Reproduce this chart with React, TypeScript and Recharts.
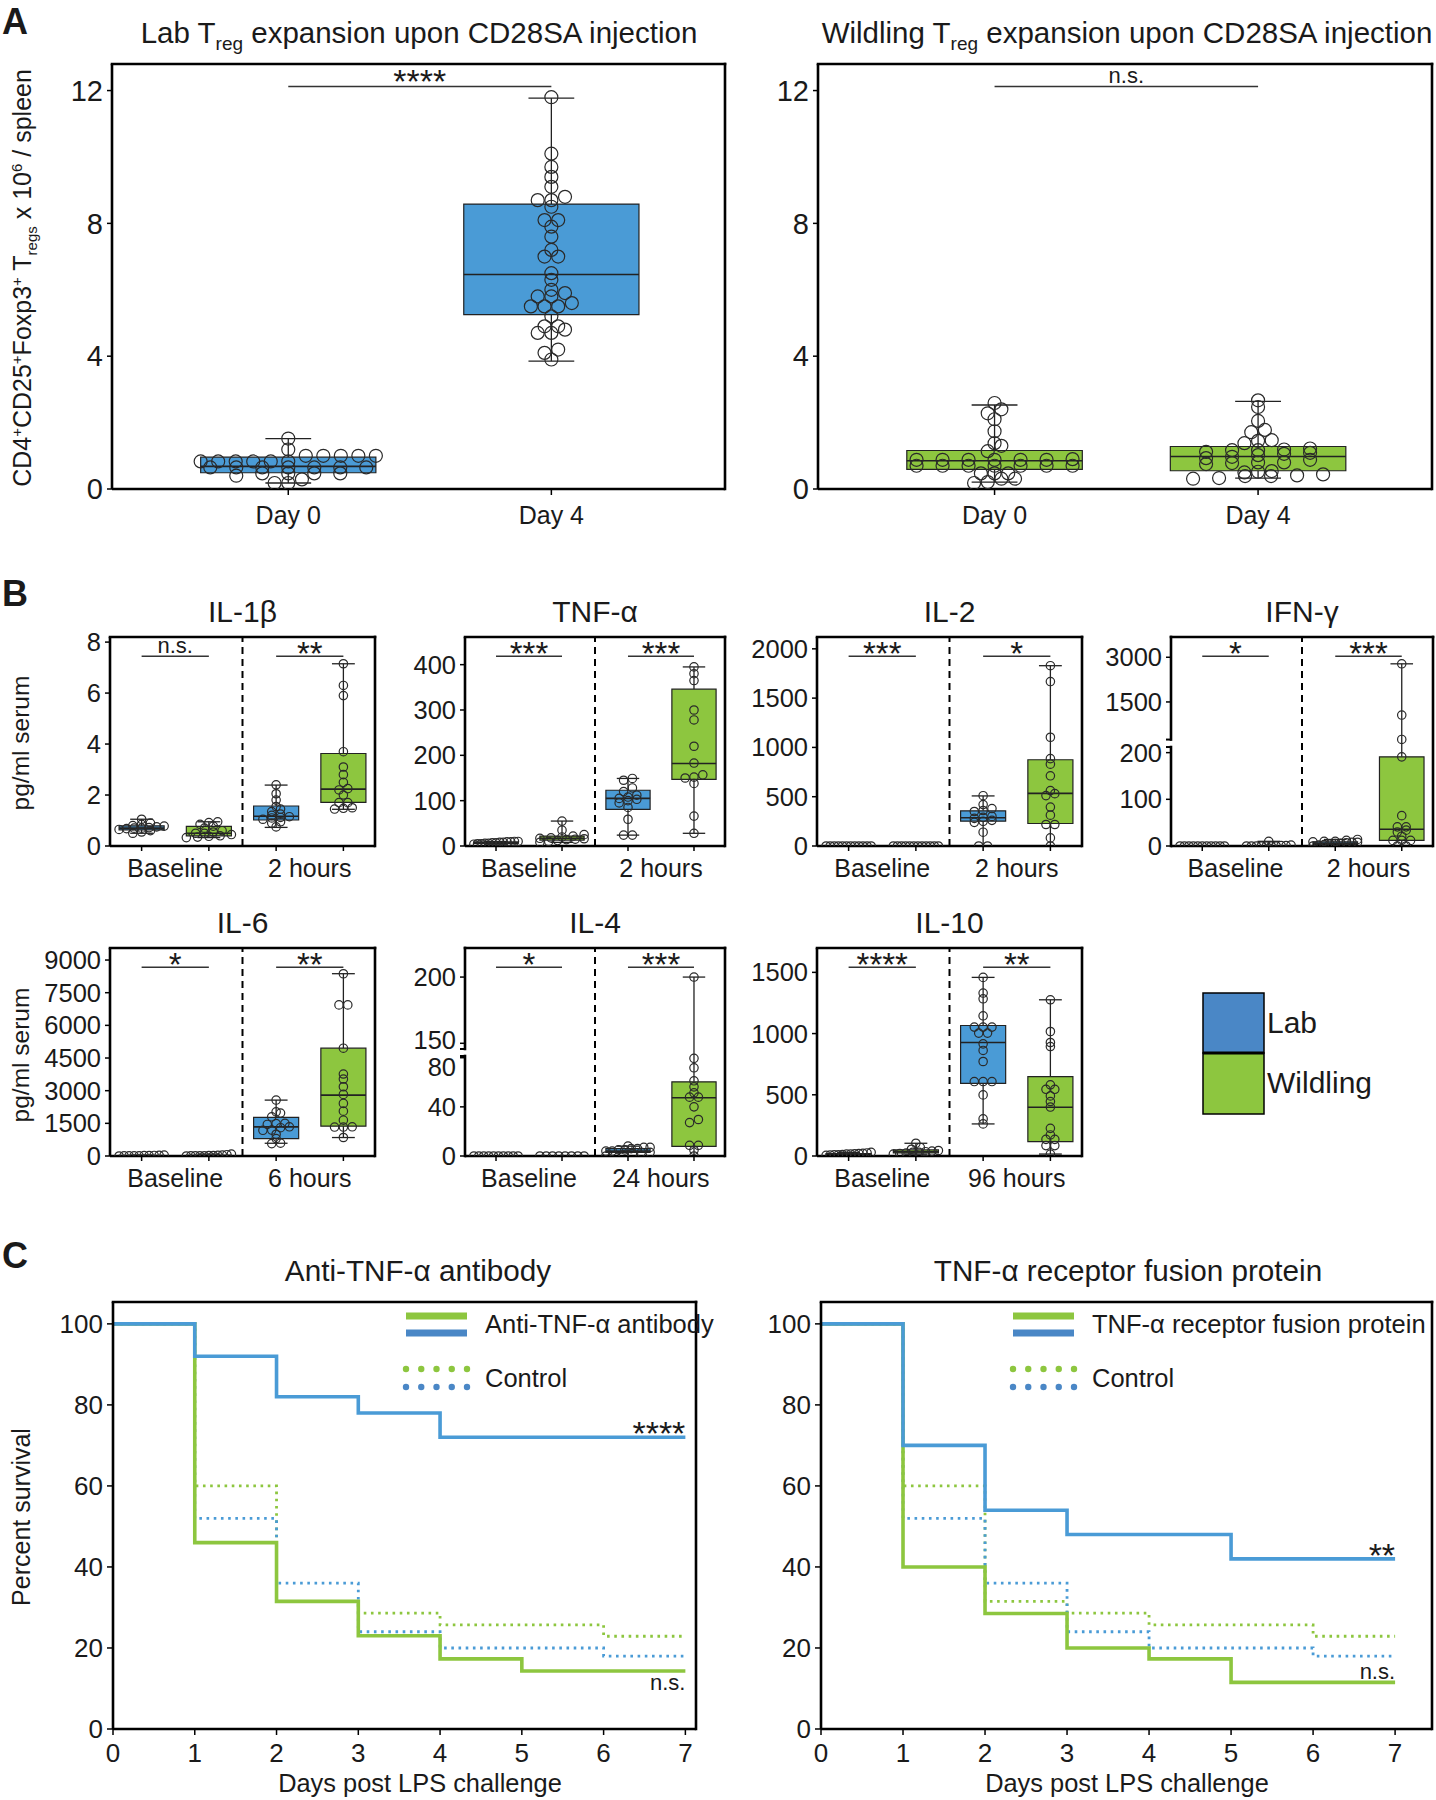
import React from 'react'
import { ComposedChart, XAxis, YAxis, Scatter, Line, ReferenceArea, ReferenceLine, ReferenceDot } from 'recharts'

document.body.style.margin = '0'

const BLUE = '#4a9bd6'
const GREEN = '#8dc63f'
const LEG_BLUE = '#4a87c6'
const INK = '#1a1a1a'
const FONT = '"Liberation Sans", Arial, Helvetica, sans-serif'

// ---------- A: Treg counts, x10^6 / spleen ----------
const aDays = ['Day 0', 'Day 4']
const aLabDay0 = [1.52, 1.19, 1.0, 1.0, 1.0, 1.0, 1.0, 0.83, 0.83, 0.83, 0.83, 0.83, 0.83, 0.65, 0.65, 0.65, 0.65, 0.65, 0.65, 0.65, 0.47, 0.47, 0.47, 0.47, 0.4, 0.29, 0.18, 0.18]
const aLabDay4 = [11.8, 10.1, 9.7, 9.4, 9.1, 8.8, 8.7, 8.7, 8.5, 8.1, 8.1, 7.9, 7.6, 7.2, 7.0, 7.0, 6.5, 6.3, 6.0, 5.9, 5.8, 5.8, 5.6, 5.5, 5.5, 5.5, 5.2, 4.9, 4.9, 4.8, 4.7, 4.7, 4.2, 4.1, 3.9]
const aWildDay0 = [2.59, 2.4, 2.28, 2.1, 1.74, 1.38, 1.3, 1.14, 0.9, 0.88, 0.88, 0.88, 0.88, 0.88, 0.88, 0.7, 0.7, 0.7, 0.7, 0.7, 0.7, 0.7, 0.47, 0.47, 0.47, 0.31, 0.31, 0.21, 0.18]
const aWildDay4 = [2.67, 2.47, 2.05, 1.78, 1.71, 1.47, 1.45, 1.38, 1.22, 1.19, 1.17, 1.17, 1.12, 1.09, 1.06, 1.02, 0.97, 0.93, 0.88, 0.8, 0.8, 0.78, 0.75, 0.54, 0.52, 0.5, 0.44, 0.41, 0.39, 0.39, 0.33, 0.31]
// box stats: [min, q1, median, q3, max]
const aLabStats = [[0.18, 0.49, 0.68, 0.96, 1.52], [3.85, 5.25, 6.46, 8.58, 11.77]]
const aWildStats = [[0.21, 0.59, 0.85, 1.16, 2.53], [0.33, 0.55, 0.98, 1.28, 2.64]]
const aTicks = [0, 4, 8, 12]
const aSig = ['****', 'n.s.']

// ---------- B: serum cytokines, pg/ml ----------
// groups: Lab baseline, Wildling baseline, Lab later, Wildling later
const cytokines = ['IL-1β', 'TNF-α', 'IL-2', 'IFN-γ', 'IL-6', 'IL-4', 'IL-10']
const timepoints = ['2 hours', '2 hours', '2 hours', '2 hours', '6 hours', '24 hours', '96 hours']
const sigBaseline = ['n.s.', '***', '***', '*', '*', '*', '****']
const sigLater = ['**', '***', '*', '***', '**', '***', '**']

const il1bPts = [
  [1.05, 0.9, 0.85, 0.8, 0.78, 0.75, 0.72, 0.7, 0.7, 0.68, 0.65, 0.6, 0.55, 0.5],
  [0.95, 0.92, 0.85, 0.78, 0.7, 0.6, 0.55, 0.5, 0.5, 0.45, 0.4, 0.38, 0.35, 0.33],
  [2.4, 2.05, 1.8, 1.55, 1.45, 1.35, 1.25, 1.2, 1.15, 1.12, 1.1, 1.05, 0.95, 0.9, 0.75],
  [7.15, 6.3, 5.9, 3.7, 3.1, 2.8, 2.5, 2.25, 2.2, 2.0, 1.7, 1.7, 1.5, 1.48, 1.45],
]
const il1bStats = [[0.5, 0.63, 0.7, 0.79, 1.05], [0.33, 0.4, 0.5, 0.77, 0.95], [0.73, 1.02, 1.17, 1.57, 2.39], [1.44, 1.71, 2.23, 3.63, 7.15]]

const tnfPts = [
  [10, 10, 9, 9, 8, 8, 7, 7, 6, 6, 5, 5, 4],
  [55, 35, 25, 22, 20, 18, 17, 16, 15, 14, 12, 10, 8],
  [149, 145, 128, 120, 112, 108, 105, 103, 100, 95, 85, 59, 24, 24],
  [395, 380, 365, 300, 278, 220, 183, 157, 152, 150, 138, 66, 28],
]
const tnfStats = [[4, 6, 7, 9, 10], [8, 13, 17, 22, 55], [24, 81, 105, 123, 149], [28, 147, 182, 346, 395]]

const il2Pts = [
  [0, 0, 0, 0, 0, 0, 0, 0, 0, 0, 0, 0],
  [0, 0, 0, 0, 0, 0, 0, 0, 0, 0, 0, 0],
  [510, 420, 380, 360, 350, 300, 290, 280, 260, 250, 240, 140, 0, 0],
  [1829, 1668, 1103, 886, 830, 712, 562, 531, 511, 395, 313, 218, 218, 82, 0],
]
const il2Stats = [[0, 0, 0, 0, 0], [0, 0, 0, 0, 0], [0, 252, 286, 357, 508], [0, 228, 534, 875, 1829]]

const ifngPts = [
  [0, 0, 0, 0, 0, 0, 0, 0, 0, 0, 0],
  [10, 2, 1, 1, 0, 0, 0, 0, 0, 0, 0],
  [14, 12, 10, 10, 9, 8, 8, 7, 6, 5, 4, 3, 2, 0],
  [2780, 1060, 240, 191, 65, 41, 41, 34, 30, 21, 12, 12, 12, 0, 0],
]
const ifngStats = [[0, 0, 0, 0, 0], [0, 0, 0, 1, 10], [0, 3, 6, 9, 14], [0, 12, 36, 191, 2780]]

const il6Pts = [
  [40, 30, 25, 20, 15, 10, 10, 5, 5, 0],
  [90, 60, 40, 30, 20, 15, 10, 10, 5, 5, 0],
  [2570, 2030, 1970, 1800, 1500, 1490, 1450, 1340, 1300, 1190, 1180, 1000, 800, 590, 570],
  [8370, 6940, 6940, 4950, 3765, 3535, 3180, 2830, 2415, 2060, 1645, 1340, 1330, 1330, 850],
]
const il6Stats = [[0, 5, 12, 25, 40], [0, 5, 15, 35, 90], [585, 802, 1336, 1770, 2567], [848, 1369, 2797, 4950, 8373]]

const il4Pts = [
  [0, 0, 0, 0, 0, 0, 0, 0, 0, 0],
  [0, 0, 0, 0, 0, 0, 0, 0],
  [8, 7, 7, 6, 6, 5, 5, 4, 4, 3, 3, 2, 1, 0, 0],
  [200, 79.5, 71.8, 61.2, 56.3, 51.4, 47.9, 47.9, 40, 29.7, 27.2, 8.7, 8.7, 4.7, 0],
]
const il4Stats = [[0, 0, 0, 0, 0], [0, 0, 0, 0, 0], [0, 3, 4, 6, 8], [0, 7.9, 47.4, 60.4, 200]]

const il10Pts = [
  [30, 25, 22, 20, 18, 15, 15, 12, 10, 10, 8, 5],
  [104, 70, 55, 45, 40, 35, 30, 30, 25, 20, 15],
  [1459, 1331, 1284, 1145, 1053, 1053, 1053, 1004, 1004, 916, 862, 772, 608, 608, 608, 499, 303, 262],
  [1276, 1017, 927, 894, 581, 545, 545, 491, 445, 400, 226, 172, 136, 136, 85, 85, 16],
]
const il10Stats = [[5, 10, 15, 20, 30], [15, 25, 35, 50, 104], [262, 594, 927, 1066, 1459], [16, 117, 398, 649, 1276]]

const bPts = [il1bPts, tnfPts, il2Pts, ifngPts, il6Pts, il4Pts, il10Pts]
const bStats = [il1bStats, tnfStats, il2Stats, ifngStats, il6Stats, il4Stats, il10Stats]
const bTicks = [
  [0, 2, 4, 6, 8],
  [0, 100, 200, 300, 400],
  [0, 500, 1000, 1500, 2000],
  [0, 100, 200, 1500, 3000],
  [0, 1500, 3000, 4500, 6000, 7500, 9000],
  [0, 40, 80, 150, 200],
  [0, 500, 1000, 1500],
]

// ---------- C: survival after LPS, % ----------
const days = [0, 1, 2, 3, 4, 5, 6, 7]
const antiLab = [100, 92, 82, 78, 72, 72, 72, 72]
const antiWild = [100, 46, 31.5, 23, 17.3, 14.3, 14.3, 14.3]
const fusionLab = [100, 70, 54, 48, 48, 42, 42, 42]
const fusionWild = [100, 40, 28.5, 20, 17.3, 11.5, 11.5, 11.5]
const ctrlLab = [100, 52, 36, 24, 20, 20, 18, 18]
const ctrlWild = [100, 60, 31.5, 28.6, 25.7, 25.7, 22.9, 22.9]
const survTicks = [0, 20, 40, 60, 80, 100]

// ---------- helpers ----------
type Brk = { lo: number; hi: number; gap: number; k: number }
const makeDisp = (brk?: Brk) => (v: number) => (!brk || v <= brk.lo ? v : brk.lo + brk.gap + (v - brk.hi) * brk.k)

// dot-plot style layout: bin by value, spread each bin sideways
function swarm(vals: number[], pxY: number, pxX: number, diam: number, halfPx: number) {
  const idx = vals.map((_, i) => i).sort((a, b) => vals[a] - vals[b])
  const off = vals.map(() => 0)
  const binPx = diam * 0.45
  let i = 0
  while (i < idx.length) {
    let j = i
    while (j + 1 < idx.length && (vals[idx[j + 1]] - vals[idx[i]]) * pxY <= binPx) j++
    const k = j - i + 1
    const sp = k >= 5 ? Math.min((2 * halfPx) / (k - 1), diam * 2) : diam * 1.05
    for (let m = 0; m < k; m++) off[idx[i + m]] = ((m - (k - 1) / 2) * sp) / pxX
    i = j + 1
  }
  return off
}

const dotShape = (r: number) => (p: any) => (
  <circle cx={p.cx} cy={p.cy} r={r} fill="none" stroke="#2a2a2a" strokeWidth={1.2} />
)

const textLabel = (text: string, size: number, dy: number, anchor: string = 'middle') => (p: any) => {
  const vb = p.viewBox || p
  return (
    <text x={vb.x} y={vb.y + dy} textAnchor={anchor} fontSize={size} fill={INK} fontFamily={FONT}>
      {text}
    </text>
  )
}

const xTick = (marks: number[], labels: { pos: number; text: string }[], len: number, font: number, dy: number) => (p: any) => {
  const v = p.payload.value
  const lab = labels.find((l) => Math.abs(l.pos - v) < 1e-6)
  return (
    <g>
      {marks.some((m) => Math.abs(m - v) < 1e-6) && <line x1={p.x} x2={p.x} y1={p.y} y2={p.y + len} stroke="#000" strokeWidth={1.5} />}
      {lab && (
        <text x={p.x} y={p.y + dy} textAnchor="middle" fontSize={font} fill={INK} fontFamily={FONT}>
          {lab.text}
        </text>
      )}
    </g>
  )
}

const yTick = (pos: number[], names: number[], font: number, nudge: Record<string, number>) => (p: any) => {
  const i = pos.findIndex((t) => Math.abs(t - p.payload.value) < 1e-6)
  if (i < 0) return <g />
  const name = String(names[i])
  return (
    <text x={p.x} y={p.y + font * 0.355 + (nudge[name] || 0)} textAnchor="end" fontSize={font} fill={INK} fontFamily={FONT}>
      {name}
    </text>
  )
}

type Group = { pos: number; color: string; stats: number[]; pts: number[] }
type Plot = { x: number; y: number; w: number; h: number }

function BoxChart(p: {
  plot: Plot; xDomain: [number, number]; yTop: number; yTicks: number[]; brk?: Brk; nudge?: Record<string, number>; groups: Group[]
  boxHalf: number; capHalf: number; r: number; divider?: number; sigY: number; sigs: { a: number; b: number; text: string }[]
  marks: number[]; labels: { pos: number; text: string }[]; tickFont: number; labelFont: number; labelDy: number; tickLen: number
  starFont: number; starDy: number; nsFont: number; nsDy: number
}) {
  const yW = 90, mT = 24, mR = 14, xH = 48
  const disp = makeDisp(p.brk)
  const [x0, x1] = p.xDomain
  const pxX = p.plot.w / (x1 - x0)
  const pxY = p.plot.h / p.yTop
  const ticks = Array.from(new Set([...p.marks, ...p.labels.map((l) => l.pos)])).sort((a, b) => a - b)
  const yTickPos = p.yTicks.map(disp)
  const frame = { stroke: '#000', strokeWidth: 2.6, ifOverflow: 'visible' as const, strokeLinecap: 'square' as const, zIndex: 500 }
  const wl = { stroke: '#222', strokeWidth: 1.3, ifOverflow: 'visible' as const, zIndex: 300 }
  return (
    <div style={{ position: 'absolute', left: p.plot.x - yW, top: p.plot.y - mT }}>
      <ComposedChart width={p.plot.w + yW + mR} height={p.plot.h + mT + xH} margin={{ top: mT, right: mR, left: 0, bottom: 0 }}>
        <XAxis type="number" dataKey="x" domain={p.xDomain} allowDataOverflow ticks={ticks} interval={0} height={xH}
          tickSize={0} tickMargin={0} tickLine={false} axisLine={{ stroke: '#000', strokeWidth: 2.6 }}
          tick={xTick(p.marks, p.labels, p.tickLen, p.labelFont, p.labelDy)} />
        <YAxis type="number" dataKey="y" domain={[0, p.yTop]} allowDataOverflow ticks={yTickPos} interval={0} width={yW}
          tickSize={5} tickMargin={4} tickLine={{ stroke: '#000', strokeWidth: 1.5 }}
          axisLine={p.brk ? false : { stroke: '#000', strokeWidth: 2.6 }}
          tick={yTick(yTickPos, p.yTicks, p.tickFont, p.nudge || {})} />
        <ReferenceLine y={p.yTop} {...frame} />
        <ReferenceLine x={x1} {...frame} />
        {p.brk && <ReferenceLine segment={[{ x: x0, y: 0 }, { x: x0, y: p.brk.lo }]} {...frame} />}
        {p.brk && <ReferenceLine segment={[{ x: x0, y: p.brk.lo + p.brk.gap }, { x: x0, y: p.yTop }]} {...frame} />}
        {p.brk && <ReferenceLine segment={[{ x: x0 - 5 / pxX, y: p.brk.lo }, { x: x0, y: p.brk.lo }]} stroke="#000" strokeWidth={2} ifOverflow="visible" />}
        {p.brk && <ReferenceLine segment={[{ x: x0 - 5 / pxX, y: p.brk.lo + p.brk.gap }, { x: x0, y: p.brk.lo + p.brk.gap }]} stroke="#000" strokeWidth={2} ifOverflow="visible" />}
        {p.divider !== undefined && <ReferenceLine x={p.divider} stroke="#000" strokeWidth={2} strokeDasharray="7 5" ifOverflow="visible" />}
        {p.groups.map((g, i) => {
          const [mn, q1, md, q3, mx] = g.stats
          return [
            <ReferenceLine key={'wa' + i} segment={[{ x: g.pos, y: disp(mn) }, { x: g.pos, y: disp(q1) }]} {...wl} />,
            <ReferenceLine key={'wb' + i} segment={[{ x: g.pos, y: disp(q3) }, { x: g.pos, y: disp(mx) }]} {...wl} />,
            <ReferenceLine key={'ca' + i} segment={[{ x: g.pos - p.capHalf, y: disp(mx) }, { x: g.pos + p.capHalf, y: disp(mx) }]} {...wl} />,
            <ReferenceLine key={'cb' + i} segment={[{ x: g.pos - p.capHalf, y: disp(mn) }, { x: g.pos + p.capHalf, y: disp(mn) }]} {...wl} />,
            <ReferenceArea key={'bx' + i} x1={g.pos - p.boxHalf} x2={g.pos + p.boxHalf} y1={disp(q1)} y2={disp(q3)}
              fill={g.color} fillOpacity={1} stroke="#222" strokeWidth={1.2} ifOverflow="visible" zIndex={350} />,
            <ReferenceLine key={'md' + i} segment={[{ x: g.pos - p.boxHalf, y: disp(md) }, { x: g.pos + p.boxHalf, y: disp(md) }]}
              stroke="#222" strokeWidth={1.6} ifOverflow="visible" zIndex={420} />,
          ]
        })}
        {p.sigs.map((s, i) => (
          <ReferenceLine key={'sl' + i} segment={[{ x: s.a, y: p.sigY }, { x: s.b, y: p.sigY }]} stroke="#333" strokeWidth={1.5} ifOverflow="visible" />
        ))}
        {p.sigs.map((s, i) => {
          const star = s.text.startsWith('*')
          return (
            <ReferenceDot key={'st' + i} x={(s.a + s.b) / 2} y={p.sigY} r={0} fill="none" stroke="none" ifOverflow="visible"
              label={textLabel(s.text, star ? p.starFont : p.nsFont, star ? p.starDy : p.nsDy)} />
          )
        })}
        {p.groups.map((g, i) => {
          const off = swarm(g.pts, pxY, pxX, p.r * 2, p.boxHalf * pxX)
          const data = g.pts.map((v, j) => ({ x: g.pos + off[j], y: disp(v) }))
          return <Scatter key={'pt' + i} data={data} dataKey="y" shape={dotShape(p.r)} isAnimationActive={false} zIndex={600} />
        })}
      </ComposedChart>
    </div>
  )
}

function SurvChart(p: { plot: Plot; xMax: number; lab: number[]; wild: number[]; notes: { y: number; text: string; size: number }[] }) {
  const yW = 90, mT = 24, mR = 14, xH = 50, yTop = 105.4
  const rows = days.map((d, i) => ({ day: d, lab: p.lab[i], wild: p.wild[i], cLab: ctrlLab[i], cWild: ctrlWild[i] }))
  const frame = { stroke: '#000', strokeWidth: 2.6, ifOverflow: 'visible' as const, strokeLinecap: 'square' as const }
  return (
    <div style={{ position: 'absolute', left: p.plot.x - yW, top: p.plot.y - mT }}>
      <ComposedChart width={p.plot.w + yW + mR} height={p.plot.h + mT + xH} margin={{ top: mT, right: mR, left: 0, bottom: 0 }} data={rows}>
        <XAxis type="number" dataKey="day" domain={[0, p.xMax]} allowDataOverflow ticks={days} interval={0} height={xH}
          tickSize={6} tickMargin={9} tickLine={{ stroke: '#000', strokeWidth: 1.5 }} axisLine={{ stroke: '#000', strokeWidth: 2.6 }}
          tick={{ fontSize: 26, fill: INK }} />
        <YAxis type="number" domain={[0, yTop]} allowDataOverflow ticks={survTicks} interval={0} width={yW}
          tickSize={6} tickMargin={4} tickLine={{ stroke: '#000', strokeWidth: 1.5 }} axisLine={{ stroke: '#000', strokeWidth: 2.6 }}
          tick={{ fontSize: 26, fill: INK }} />
        <ReferenceLine y={yTop} {...frame} />
        <ReferenceLine x={p.xMax} {...frame} />
        <Line type="stepAfter" dataKey="cWild" stroke={GREEN} strokeWidth={2.8} strokeDasharray="2.6 4.6" dot={false} activeDot={false} isAnimationActive={false} />
        <Line type="stepAfter" dataKey="cLab" stroke={BLUE} strokeWidth={2.8} strokeDasharray="2.6 4.6" dot={false} activeDot={false} isAnimationActive={false} />
        <Line type="stepAfter" dataKey="wild" stroke={GREEN} strokeWidth={3.6} dot={false} activeDot={false} isAnimationActive={false} />
        <Line type="stepAfter" dataKey="lab" stroke={BLUE} strokeWidth={3.6} dot={false} activeDot={false} isAnimationActive={false} />
        {p.notes.map((n, i) => (
          <ReferenceDot key={'n' + i} x={7} y={n.y} r={0} fill="none" stroke="none" ifOverflow="visible" label={textLabel(n.text, n.size, 0, 'end')} />
        ))}
      </ComposedChart>
    </div>
  )
}

// ---------- layout ----------
const aPlots: Plot[] = [
  { x: 112, y: 64, w: 613, h: 425 },
  { x: 818, y: 64, w: 614, h: 425 },
]
const bColX = [110, 465, 817, 1171]
const bColW = [265, 260, 265, 262]
const bRowY = [637, 948]
const bRowH = [209, 208]
const bCells = [[0, 0], [1, 0], [2, 0], [3, 0], [0, 1], [1, 1], [2, 1]]
const bYTop = [8.2, 461, 2120, 447.7, 9553, 169.3, 1699]
const bBreaks: (Brk | undefined)[] = [undefined, undefined, undefined, { lo: 212, hi: 237, gap: 16, k: 0.0638 }, undefined, { lo: 81.4, hi: 145.7, gap: 5.7, k: 1.078 }, undefined]
const bNudge: Record<string, number>[] = [{}, {}, {}, {}, {}, { '80': 9, '150': -3 }, {}]
const bColors = [BLUE, GREEN, BLUE, GREEN]

const sup = (t: string, size = 15) => [
  <tspan key={t + 'a'} fontSize={size} dy={-9}>{t}</tspan>,
]

export default function App() {
  return (
    <div style={{ position: 'relative', width: 1436, height: 1800, background: '#fff', fontFamily: FONT, color: INK, overflow: 'hidden' }}>
      {aPlots.map((pl, k) => (
        <BoxChart key={'a' + k} plot={pl} xDomain={[-0.67, 1.66]} yTop={12.8} yTicks={aTicks}
          groups={[0, 1].map((pos) => ({
            pos, color: k === 0 ? BLUE : GREEN,
            stats: (k === 0 ? aLabStats : aWildStats)[pos],
            pts: k === 0 ? (pos === 0 ? aLabDay0 : aLabDay4) : (pos === 0 ? aWildDay0 : aWildDay4),
          }))}
          boxHalf={0.333} capHalf={0.087} r={6.5} sigY={12.12} sigs={[{ a: 0, b: 1, text: aSig[k] }]}
          marks={[0, 1]} labels={[{ pos: 0, text: aDays[0] }, { pos: 1, text: aDays[1] }]}
          tickFont={29} labelFont={25} labelDy={34.5} tickLen={6}
          starFont={34} starDy={6.7} nsFont={22} nsDy={-4} />
      ))}
      {bCells.map(([c, rw], i) => (
        <BoxChart key={'b' + i} plot={{ x: bColX[c], y: bRowY[rw], w: bColW[c], h: bRowH[rw] }} xDomain={[-0.47, 3.47]}
          yTop={bYTop[i]} yTicks={bTicks[i]} brk={bBreaks[i]} nudge={bNudge[i]}
          groups={[0, 1, 2, 3].map((pos) => ({ pos, color: bColors[pos], stats: bStats[i][pos], pts: bPts[i][pos] }))}
          boxHalf={0.335} capHalf={0.17} r={4.2} divider={1.5} sigY={bYTop[i] * 0.908}
          sigs={[{ a: 0, b: 1, text: sigBaseline[i] }, { a: 2, b: 3, text: sigLater[i] }]}
          marks={[0, 1, 2, 3]} labels={[{ pos: 0.5, text: 'Baseline' }, { pos: 2.5, text: timepoints[i] }]}
          tickFont={25.5} labelFont={25} labelDy={31} tickLen={5}
          starFont={33} starDy={9} nsFont={22} nsDy={-3} />
      ))}
      <SurvChart plot={{ x: 113, y: 1302, w: 583, h: 427 }} xMax={7.13} lab={antiLab} wild={antiWild}
        notes={[{ y: 70, text: '****', size: 34 }, { y: 9.6, text: 'n.s.', size: 22 }]} />
      <SurvChart plot={{ x: 821, y: 1302, w: 611, h: 427 }} xMax={7.45} lab={fusionLab} wild={fusionWild}
        notes={[{ y: 40, text: '**', size: 34 }, { y: 12.3, text: 'n.s.', size: 22 }]} />

      <svg width={1436} height={1800} style={{ position: 'absolute', left: 0, top: 0, pointerEvents: 'none' }} fontFamily={FONT} fill={INK}>
        <text x={2} y={34} fontSize={36} fontWeight="bold">A</text>
        <text x={2} y={606} fontSize={36} fontWeight="bold">B</text>
        <text x={2} y={1268} fontSize={36} fontWeight="bold">C</text>

        <text x={419} y={43} fontSize={29.5} textAnchor="middle">
          Lab T<tspan fontSize={19} dy={7}>reg</tspan><tspan dy={-7}> expansion upon CD28SA injection</tspan>
        </text>
        <text x={1127} y={43} fontSize={29.5} textAnchor="middle">
          Wildling T<tspan fontSize={19} dy={7}>reg</tspan><tspan dy={-7}> expansion upon CD28SA injection</tspan>
        </text>
        <text transform="translate(31,278) rotate(-90)" fontSize={25} textAnchor="middle">
          CD4{sup('+')}<tspan dy={9}>CD25</tspan>{sup('+')}<tspan dy={9}>Foxp3</tspan>{sup('+')}<tspan dy={9}> T</tspan>
          <tspan fontSize={15} dy={6}>regs</tspan><tspan dy={-6}> x 10</tspan>{sup('6')}<tspan dy={9}> / spleen</tspan>
        </text>

        {bCells.map(([c, rw], i) => (
          <text key={'bt' + i} x={bColX[c] + bColW[c] / 2} y={rw === 0 ? 622 : 933} fontSize={30} textAnchor="middle">{cytokines[i]}</text>
        ))}
        <text transform="translate(29,743) rotate(-90)" fontSize={24.5} textAnchor="middle">pg/ml serum</text>
        <text transform="translate(29,1055) rotate(-90)" fontSize={24.5} textAnchor="middle">pg/ml serum</text>

        <rect x={1203} y={993} width={61} height={60} fill={LEG_BLUE} stroke="#000" strokeWidth={1.5} />
        <rect x={1203} y={1053} width={61} height={61} fill={GREEN} stroke="#000" strokeWidth={1.5} />
        <line x1={1203} x2={1264} y1={1053} y2={1053} stroke="#000" strokeWidth={3} />
        <text x={1267} y={1033} fontSize={30}>Lab</text>
        <text x={1267} y={1093} fontSize={30}>Wildling</text>

        <text x={418} y={1281} fontSize={29.7} textAnchor="middle">Anti-TNF-α antibody</text>
        <text x={1128} y={1281} fontSize={29.7} textAnchor="middle">TNF-α receptor fusion protein</text>
        <text transform="translate(30,1517) rotate(-90)" fontSize={25} textAnchor="middle">Percent survival</text>
        <text x={420} y={1792} fontSize={25.4} textAnchor="middle">Days post LPS challenge</text>
        <text x={1127} y={1792} fontSize={25.4} textAnchor="middle">Days post LPS challenge</text>

        {[{ x: 406, t: 'Anti-TNF-α antibody' }, { x: 1013, t: 'TNF-α receptor fusion protein' }].map((l, k) => (
          <g key={'cl' + k}>
            <rect x={l.x} y={1312.5} width={61} height={7} fill={GREEN} />
            <rect x={l.x} y={1329.5} width={61} height={7} fill={LEG_BLUE} />
            <text x={l.x + 79} y={1333} fontSize={25.5}>{l.t}</text>
            {[0, 1, 2, 3, 4].map((d) => (
              <g key={d}>
                <circle cx={l.x + d * 15.25} cy={1369} r={3.2} fill={GREEN} />
                <circle cx={l.x + d * 15.25} cy={1387} r={3.2} fill={LEG_BLUE} />
              </g>
            ))}
            <text x={l.x + 79} y={1387} fontSize={25.5}>Control</text>
          </g>
        ))}
      </svg>
    </div>
  )
}
